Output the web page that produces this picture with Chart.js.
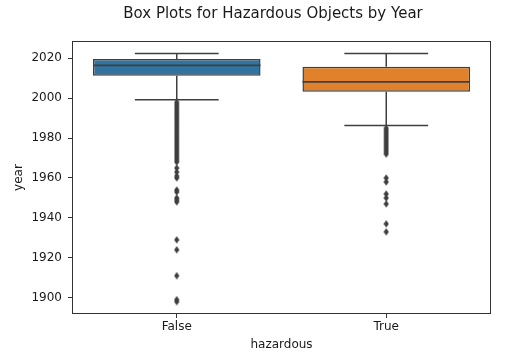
<!DOCTYPE html>
<html>
<head>
<meta charset="utf-8">
<script src="https://cdn.jsdelivr.net/npm/chart.js@4"></script>
<style>
  html, body { margin: 0; padding: 0; background: #fff; }
  #wrap { width: 510px; height: 358px; position: relative; }
</style>
</head>
<body>
<div id="wrap"><canvas id="c" width="510" height="358"></canvas></div>
<script>
// ---- data ----
const categories = ['False', 'True'];
const boxColors = ['#3274a1', '#e1812c'];
const q1Values = [2011.3, 2003.2];
const medianValues = [2016.5, 2008.2];
const q3Values = [2019.7, 2015.8];
const whiskerLow = [1999.3, 1986.3];
const whiskerHigh = [2022.4, 2022.4];
const outliersFalse = [1998, 1997, 1996, 1995, 1994, 1993, 1992, 1991, 1990, 1989, 1988, 1987,
  1986, 1985, 1984, 1983, 1982, 1981, 1980, 1979, 1978, 1977, 1976, 1975, 1974, 1973, 1972,
  1971, 1970, 1969, 1968, 1965, 1963, 1961, 1960, 1954, 1953, 1950, 1949, 1948,
  1929, 1924, 1911, 1899, 1898];
const outliersTrue = [1985, 1984, 1983, 1982, 1981, 1980, 1979, 1978, 1977, 1976, 1975, 1974,
  1973, 1972, 1960, 1958, 1952, 1950, 1947, 1937, 1933];
const yTicks = [1900, 1920, 1940, 1960, 1980, 2000, 2020];
const yMin = 1891.8, yMax = 2028.7;

const lineColor = '#3f3f3f';
const textColor = '#1a1a1a';
const FONT = "'DejaVu Sans', sans-serif";

// thin diamond marker
const diamond = document.createElement('canvas');
diamond.width = 6; diamond.height = 8;
(function () {
  const g = diamond.getContext('2d');
  g.fillStyle = lineColor;
  g.beginPath();
  g.moveTo(3, 0.3); g.lineTo(5.6, 4); g.lineTo(3, 7.7); g.lineTo(0.4, 4);
  g.closePath(); g.fill();
})();

const outlierPoints = [];
outliersFalse.forEach(v => outlierPoints.push({ x: categories[0], y: v }));
outliersTrue.forEach(v => outlierPoints.push({ x: categories[1], y: v }));

const boxPlugin = {
  id: 'boxParts',
  beforeDatasetsDraw(chart) {
    const ctx = chart.ctx, xs = chart.scales.x, ys = chart.scales.y;
    const step = xs.getPixelForValue(1) - xs.getPixelForValue(0);
    ctx.save();
    ctx.strokeStyle = lineColor; ctx.lineWidth = 1.5;
    categories.forEach((c, i) => {
      const cx = xs.getPixelForValue(i);
      const half = step * 0.2;
      ctx.beginPath();
      ctx.moveTo(cx, ys.getPixelForValue(q3Values[i]));
      ctx.lineTo(cx, ys.getPixelForValue(whiskerHigh[i]));
      ctx.moveTo(cx, ys.getPixelForValue(q1Values[i]));
      ctx.lineTo(cx, ys.getPixelForValue(whiskerLow[i]));
      ctx.moveTo(cx - half, ys.getPixelForValue(whiskerHigh[i]));
      ctx.lineTo(cx + half, ys.getPixelForValue(whiskerHigh[i]));
      ctx.moveTo(cx - half, ys.getPixelForValue(whiskerLow[i]));
      ctx.lineTo(cx + half, ys.getPixelForValue(whiskerLow[i]));
      ctx.stroke();
    });
    ctx.restore();
  },
  afterDatasetDraw(chart, args) {
    if (args.index !== 0) return;
    const ctx = chart.ctx, xs = chart.scales.x, ys = chart.scales.y;
    const step = xs.getPixelForValue(1) - xs.getPixelForValue(0);
    ctx.save();
    ctx.strokeStyle = lineColor; ctx.lineWidth = 1.8;
    categories.forEach((c, i) => {
      const cx = xs.getPixelForValue(i);
      const half = step * 0.4;
      const y = ys.getPixelForValue(medianValues[i]);
      ctx.beginPath();
      ctx.moveTo(cx - half, y); ctx.lineTo(cx + half, y);
      ctx.stroke();
    });
    ctx.restore();
  },
  afterDraw(chart) {
    const ctx = chart.ctx, a = chart.chartArea;
    ctx.save();
    ctx.strokeStyle = '#333'; ctx.lineWidth = 1;
    ctx.strokeRect(Math.round(a.left) + 0.5, Math.round(a.top) + 0.5,
      Math.round(a.right - a.left) - 1, Math.round(a.bottom - a.top) - 1);
    ctx.fillStyle = textColor;
    ctx.font = '15px ' + FONT;
    ctx.textAlign = 'center'; ctx.textBaseline = 'middle';
    ctx.fillText('Box Plots for Hazardous Objects by Year', 273, 14);
    ctx.restore();
  }
};

new Chart(document.getElementById('c'), {
  type: 'bar',
  data: {
    labels: categories,
    datasets: [
      {
        type: 'bar',
        data: categories.map((c, i) => [q1Values[i], q3Values[i]]),
        backgroundColor: boxColors,
        borderColor: lineColor,
        borderWidth: 1.5,
        borderSkipped: false,
        barPercentage: 0.8,
        categoryPercentage: 1.0,
        order: 2
      },
      {
        type: 'scatter',
        data: outlierPoints,
        pointStyle: diamond,
        pointRadius: 3,
        order: 1
      }
    ]
  },
  options: {
    responsive: false,
    animation: false,
    layout: { padding: { top: 41, right: 19, bottom: 0, left: 0 } },
    plugins: { legend: { display: false }, tooltip: { enabled: false }, title: { display: false } },
    scales: {
      x: {
        type: 'category',
        offset: true,
        border: { display: false },
        grid: { display: true, drawOnChartArea: false, drawTicks: true, tickLength: 4, tickColor: '#333', offset: false },
        ticks: { color: textColor, padding: 2, font: { family: FONT, size: 12 } },
        title: { display: true, text: 'hazardous', color: textColor, font: { family: FONT, size: 12 }, padding: { top: 4, bottom: 6 } },
        afterFit(s) { s.height = 44; }
      },
      y: {
        type: 'linear',
        min: yMin, max: yMax,
        border: { display: false },
        grid: { display: true, drawOnChartArea: false, drawTicks: true, tickLength: 4, tickColor: '#333' },
        ticks: {
          color: textColor, padding: 6, font: { family: FONT, size: 12 },
          callback: (v) => String(v)
        },
        afterBuildTicks(s) { s.ticks = yTicks.map(v => ({ value: v })); },
        title: { display: true, text: 'year', color: textColor, font: { family: FONT, size: 12 }, padding: { top: 12, bottom: 0 } },
        afterFit(s) { s.width = 72; }
      }
    }
  },
  plugins: [boxPlugin]
});
</script>
</body>
</html>
